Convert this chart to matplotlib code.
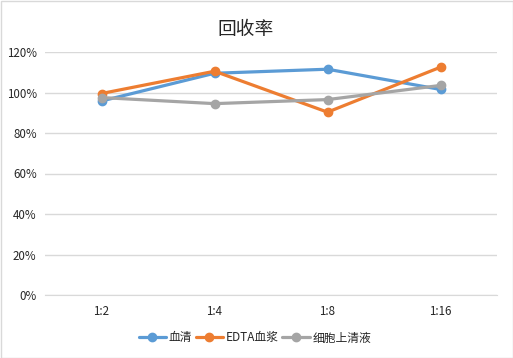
import matplotlib
matplotlib.use("Agg")
import matplotlib.pyplot as plt
from matplotlib.ticker import FuncFormatter
from matplotlib.patches import Rectangle

plt.rcParams['font.family'] = ['Noto Sans CJK SC', 'DejaVu Sans']

categories = ["1:2", "1:4", "1:8", "1:16"]
serum = [95.8, 109.5, 111.5, 101.5]
edta_plasma = [99.5, 110.5, 90.3, 112.5]
cell_supernatant = [97.5, 94.5, 96.5, 103.5]
series_names = ["血清", "EDTA血浆", "细胞上清液"]
colors = ["#5B9BD5", "#ED7D31", "#A5A5A5"]

W, H = 513, 358
fig = plt.figure(figsize=(W/100, H/100), dpi=100)
ax = fig.add_axes([45/W, 1-295/H, 452/W, 243/H])

x = list(range(len(categories)))
for vals, name, c in zip([serum, edta_plasma, cell_supernatant], series_names, colors):
    ax.plot(x, vals, color=c, lw=2.3, marker='o', ms=6, label=name, solid_capstyle='round')

ax.set_xlim(-0.5, len(categories)-0.5)
ax.set_ylim(0, 120)
ax.set_yticks(range(0, 121, 20))
ax.yaxis.set_major_formatter(FuncFormatter(lambda v, p: f"{int(v)}%"))
ax.set_xticks(x)
ax.set_xticklabels(categories)
ax.grid(axis='y', color='#D9D9D9', lw=1)
ax.set_axisbelow(True)
for s in ax.spines.values():
    s.set_visible(False)
ax.spines['bottom'].set_visible(True)
ax.spines['bottom'].set_color('#D9D9D9')
ax.tick_params(axis='both', length=0, labelsize=8.3, colors='#262626', pad=7)
ax.tick_params(axis='y', pad=6)

fig.text(246/W, 1-30/H, "回收率", ha='center', va='center', fontsize=13.5, color='#262626',
         fontweight='light')

leg = fig.legend(loc='center', bbox_to_anchor=(255/W, 1-338/H), ncol=3, frameon=False,
                 fontsize=8.5, handlelength=2.3, columnspacing=0.3, handletextpad=0.25,
                 labelcolor='#262626')

fig.patches.append(Rectangle((0.5/W, 0.5/H), 1-1/W, 1-1/H, transform=fig.transFigure,
                             fill=False, edgecolor='#D9D9D9', lw=1))

fig.savefig("out.png", dpi=100)
